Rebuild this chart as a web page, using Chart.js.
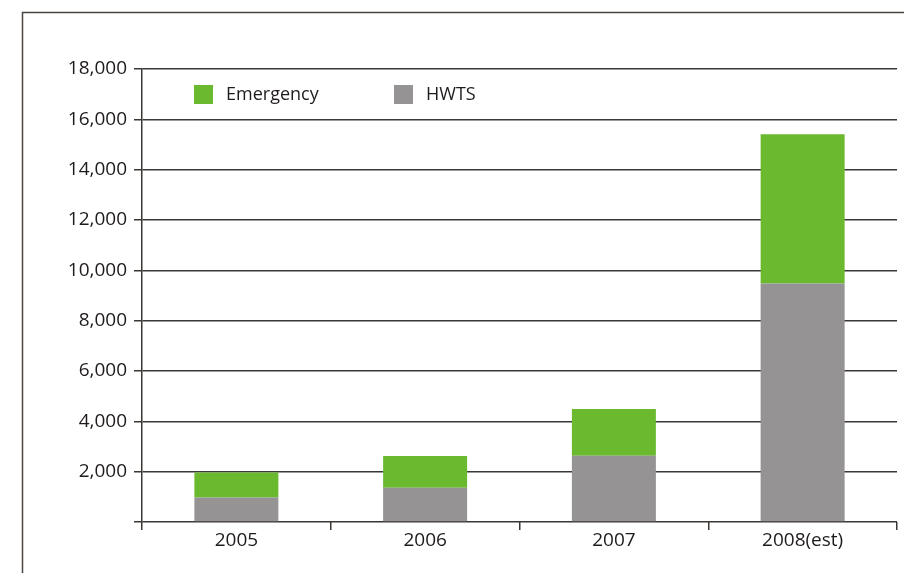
<!DOCTYPE html>
<html>
<head>
<meta charset="utf-8">
<script src="https://cdn.jsdelivr.net/npm/chart.js@4.4.1/dist/chart.umd.min.js"></script>
<style>
  html, body { margin: 0; padding: 0; background: #fff; }
  #wrap { width: 904px; height: 573px; position: relative; }
</style>
</head>
<body>
<div id="wrap"><canvas id="myChart" width="904" height="573"></canvas></div>
<script>
const years = ["2005", "2006", "2007", "2008(est)"];
const hwts = [970, 1360, 2630, 9480];
const emergency = [1000, 1260, 1860, 5930];
const yTicks = [0, 2000, 4000, 6000, 8000, 10000, 12000, 14000, 16000, 18000];

const textColor = "#1f1b1c";
const lineColor = "#3b3735";
const fontFamily = "'Open Sans', 'Noto Sans', sans-serif";

/* marco exterior y leyenda dentro del area */
const frame = {
  id: "frame",
  beforeDraw(chart) {
    const c = chart.ctx;
    c.save();
    c.strokeStyle = "#4a4541";
    c.lineWidth = 1.5;
    c.beginPath();
    c.moveTo(22.5, 573);
    c.lineTo(22.5, 12.5);
    c.lineTo(904, 12.5);
    c.stroke();
    c.restore();
  },
  afterDraw(chart) {
    const c = chart.ctx;
    const area = chart.chartArea;
    const items = [chart.data.datasets[1], chart.data.datasets[0]];
    const xs = [area.left + 52, area.left + 252];
    c.save();
    c.font = "18px " + fontFamily;
    c.textBaseline = "middle";
    items.forEach((ds, i) => {
      c.fillStyle = ds.backgroundColor;
      c.fillRect(xs[i], area.top + 16, 19, 19);
      c.fillStyle = textColor;
      c.fillText(ds.label, xs[i] + 32, area.top + 26);
    });
    c.restore();
  },
};

const ctx = document.getElementById("myChart").getContext("2d");
const myChart = new Chart(ctx, {
  type: "bar",
  data: {
    labels: years,
    datasets: [
      {
        label: "HWTS",
        data: hwts,
        backgroundColor: "#959394",
        borderWidth: 0,
        barPercentage: 0.445,
        categoryPercentage: 1,
      },
      {
        label: "Emergency",
        data: emergency,
        backgroundColor: "#6ab92f",
        borderWidth: 0,
        barPercentage: 0.445,
        categoryPercentage: 1,
      },
    ],
  },
  options: {
    responsive: false,
    animation: false,
    layout: { padding: { top: 69, right: 7, left: 0, bottom: 0 } },
    plugins: {
      legend: { display: false },
      tooltip: { enabled: false },
    },
    scales: {
      x: {
        stacked: true,
        offset: true,
        grid: {
          offset: true,
          drawOnChartArea: false,
          drawTicks: true,
          tickLength: 8,
          color: lineColor,
          lineWidth: 1.5,
        },
        border: { display: false },
        ticks: {
          color: textColor,
          font: { family: fontFamily, size: 19 },
          padding: -1,
          maxRotation: 0,
        },
        afterFit(scale) {
          scale.height = 51;
        },
      },
      y: {
        stacked: true,
        min: 0,
        max: 18000,
        afterBuildTicks(scale) {
          scale.ticks = yTicks.map((v) => ({ value: v }));
        },
        grid: {
          color: lineColor,
          lineWidth: 1.5,
          tickLength: 8,
        },
        border: { display: true, color: lineColor, width: 1.5 },
        ticks: {
          color: textColor,
          font: { family: fontFamily, size: 19 },
          padding: 7,
          callback: (v) => (v === 0 ? "" : v.toLocaleString("en-US")),
        },
        afterFit(scale) {
          scale.width = 142;
        },
      },
    },
  },
  plugins: [frame],
});
</script>
</body>
</html>
